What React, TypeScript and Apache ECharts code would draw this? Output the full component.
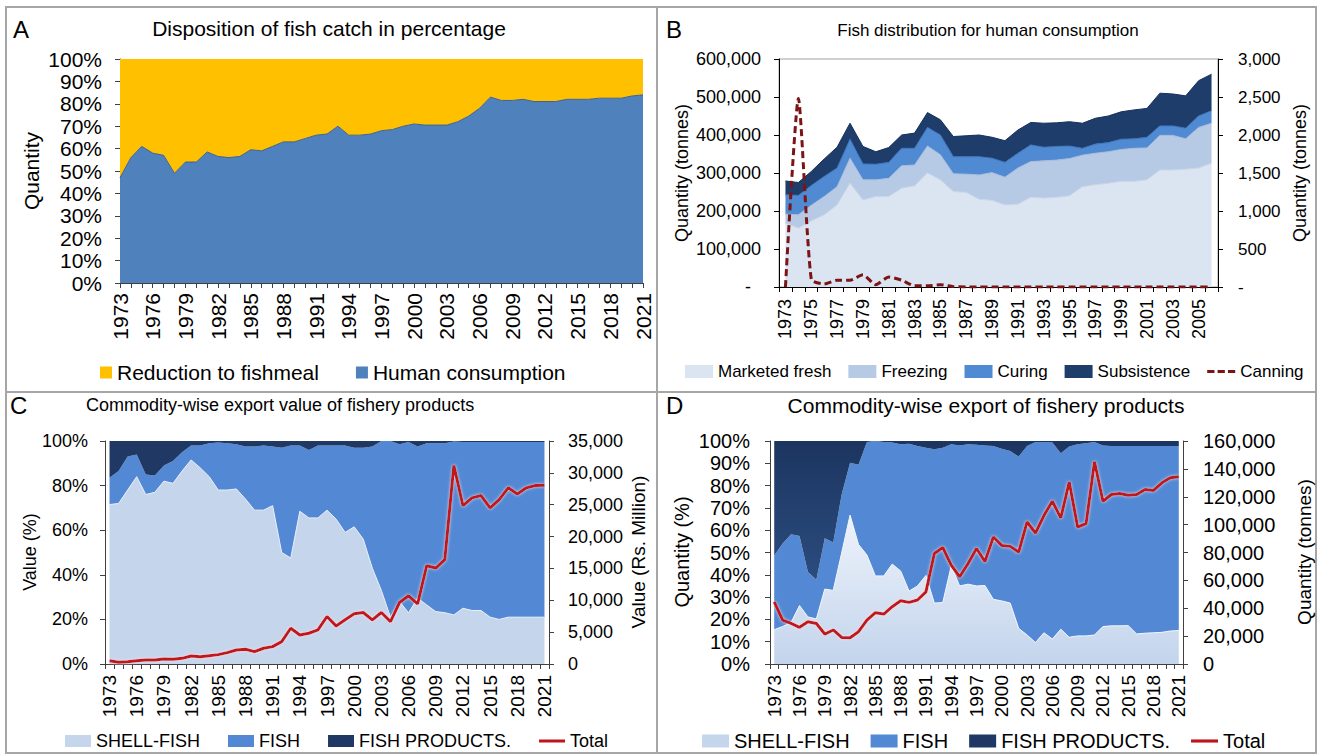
import React, { useEffect, useRef } from 'react';
import * as echarts from 'echarts';

const FONT = '"Liberation Sans", Arial, Helvetica, sans-serif';

// ---------- categories ----------
const YEARS_FULL = Array.from({ length: 49 }, (_, i) => String(1973 + i)); // 1973-2021
const YEARS_B = Array.from({ length: 34 }, (_, i) => String(1973 + i)); // 1973-2006

// ---------- Panel A : disposition of fish catch (%) ----------
const A_HUMAN = [47, 56, 61, 58, 57, 49, 54, 54, 58.5, 56.5, 56, 56.5, 59.5, 59, 61, 63, 63, 64.5, 66, 66.5, 70, 66, 66, 66.5, 68, 68.5, 70, 71, 70.5, 70.5, 70.5, 72, 74.5, 78, 83, 81.5, 81.5, 82, 81, 81, 81, 82, 82, 82, 82.5, 82.5, 82.5, 83.5, 84];
const A_REDUCTION = [53, 44, 39, 42, 43, 51, 46, 46, 41.5, 43.5, 44, 43.5, 40.5, 41, 39, 37, 37, 35.5, 34, 33.5, 30, 34, 34, 33.5, 32, 31.5, 30, 29, 29.5, 29.5, 29.5, 28, 25.5, 22, 17, 18.5, 18.5, 18, 19, 19, 19, 18, 18, 18, 17.5, 17.5, 17.5, 16.5, 16];

// ---------- Panel B : fish distribution for human consumption (tonnes) ----------
const B_FRESH = [168000, 155000, 174000, 190000, 216000, 273000, 229000, 238000, 238000, 260000, 266000, 300000, 282000, 251000, 249000, 231000, 228000, 216000, 218000, 236000, 234000, 236000, 240000, 264000, 269000, 273000, 278000, 278000, 282000, 308000, 308000, 310000, 313000, 326000];
const B_FREEZING = [24000, 35000, 41000, 48000, 48000, 66000, 53000, 44000, 48000, 59000, 55000, 71000, 66000, 47000, 48000, 64000, 73000, 73000, 95000, 94000, 98000, 98000, 98000, 83000, 83000, 83000, 84000, 87000, 84000, 91000, 91000, 80000, 107000, 105000];
const B_CURING = [51000, 51000, 52000, 53000, 49000, 50000, 42000, 41000, 42000, 46000, 44000, 49000, 52000, 45000, 46000, 48000, 38000, 39000, 39000, 44000, 36000, 36000, 33000, 18000, 24000, 24000, 27000, 25000, 28000, 25000, 25000, 28000, 30000, 33000];
const B_SUBSISTENCE = [36000, 34000, 37000, 46000, 55000, 42000, 46000, 33000, 39000, 35000, 40000, 39000, 40000, 53000, 55000, 57000, 55000, 57000, 61000, 59000, 63000, 62000, 64000, 66000, 68000, 70000, 72000, 76000, 76000, 86000, 84000, 85000, 93000, 96000];
const B_CANNING = [0, 2480, 100, 40, 90, 90, 160, 30, 130, 90, 15, 15, 30, 5, 0, 0, 0, 0, 0, 0, 0, 0, 0, 0, 0, 0, 0, 0, 0, 0, 0, 0, 0, 0];

// ---------- Panel C : commodity-wise export value (%), total (Rs. Million) ----------
const C_SHELL = [71.5, 72, 78, 84, 76, 77, 82, 81, 86.5, 91.5, 88, 84, 78, 78, 78.5, 74, 69, 69, 71, 50, 47.5, 68.5, 65.5, 65.5, 69, 65, 59, 61.5, 56, 43, 33, 21, 28, 23, 29.5, 26.5, 23.5, 23, 22, 25, 24, 24, 21, 20, 21, 21, 21, 21, 21];
const C_FISH = [12, 14.5, 15, 10, 9, 7.5, 7, 10, 8.5, 6.5, 10, 15, 21.3, 21, 20, 23.5, 28.5, 29, 26.5, 47, 50.5, 29.5, 30.5, 32.5, 29, 33, 39, 35.5, 41, 54.5, 67, 79, 70.5, 76.5, 68, 72.5, 75.5, 76, 77.8, 74.5, 75.5, 75.5, 78.5, 79.5, 78.5, 78.5, 78.5, 78.5, 78.5];
const C_PRODUCTS = [16.5, 13.5, 7, 6, 15, 15.5, 11, 9, 5, 2, 2, 1, 0.7, 1, 1.5, 2.5, 2.5, 2, 2.5, 3, 2, 2, 4, 2, 2, 2, 2, 3, 3, 2.5, 0, 0, 1.5, 0.5, 2.5, 1, 1, 1, 0.2, 0.5, 0.5, 0.5, 0.5, 0.5, 0.5, 0.5, 0.5, 0.5, 0.5];
const C_TOTAL = [500, 260, 370, 520, 630, 630, 790, 730, 890, 1260, 1150, 1310, 1470, 1780, 2200, 2310, 1940, 2470, 2730, 3520, 5610, 4560, 4830, 5350, 7450, 5980, 6930, 7870, 8080, 6930, 8080, 6660, 9650, 10700, 9440, 15420, 15060, 16370, 31160, 24870, 26070, 26440, 24500, 25810, 27650, 26700, 27650, 28020, 28070];

// ---------- Panel D : commodity-wise export quantity (%), total (tonnes) ----------
const D_SHELL = [15.4, 16.8, 18.6, 26.2, 21.1, 20.2, 33.6, 33, 49.8, 66.8, 53.6, 48.9, 39.5, 39.5, 44.8, 41.7, 32.7, 35, 39.7, 27.3, 27.6, 44, 35, 35.8, 35, 35.2, 29, 28.3, 27.3, 16, 13, 9.6, 14, 11.2, 15.6, 12, 12.6, 12.6, 13, 16.8, 17.1, 17.1, 17.2, 13.5, 13.8, 14, 14.2, 14.8, 15];
const D_FISH = [33.3, 37.2, 39.6, 31.2, 20.1, 17.6, 22.8, 21.5, 26.2, 23.4, 35.7, 50.6, 60.5, 60, 54.5, 56.8, 66.1, 62.8, 57.3, 69, 69.4, 54.5, 63, 62.7, 63.3, 62.8, 68.8, 68.2, 68.2, 77, 84.8, 89.9, 85.5, 88.1, 78.9, 85.5, 85.9, 86.4, 86.5, 81.2, 80.7, 80.7, 80.6, 84.3, 84, 83.8, 83.6, 83, 82.8];
const D_PRODUCTS = [51.3, 46, 41.8, 42.6, 58.8, 62.2, 43.6, 45.5, 24, 9.8, 10.7, 0.5, 0, 0.5, 0.7, 1.5, 1.2, 2.2, 3, 3.7, 3, 1.5, 2, 1.5, 1.7, 2, 2.2, 3.5, 4.5, 7, 2.2, 0.5, 0.5, 0.7, 5.5, 2.5, 1.5, 1, 0.5, 2, 2.2, 2.2, 2.2, 2.2, 2.2, 2.2, 2.2, 2.2, 2.2];
const D_TOTAL = [44650, 31500, 29100, 26300, 30300, 29100, 21500, 24400, 19100, 18900, 23200, 31500, 36800, 35800, 41100, 45400, 44200, 45900, 51800, 79300, 83600, 70900, 62600, 72100, 82900, 73500, 91100, 85100, 84400, 80300, 101900, 94000, 106500, 116800, 104800, 130500, 98300, 100700, 145100, 116800, 121600, 122300, 121100, 121600, 125200, 124500, 130000, 133600, 134300];

// ---------- colours ----------
const COL = {
  human: '#4f81bd',
  reduction: '#ffc000',
  fresh: '#dbe5f2',
  freezing: '#b6cae5',
  curing: '#4f8ad2',
  subsistence: '#1f3d6b',
  canning: '#7b1414',
  shell: '#c5d5ec',
  fish: '#5389d4',
  products: '#1f3864',
  total: '#c0141c',
};

const fmtNum = (v: number) => v.toLocaleString('en-US');
const fmtDash = (v: number) => (v === 0 ? '{d|-}' : fmtNum(v));

function xCat(gridIndex: number, data: string[], gap: boolean, interval: number, fs: number, margin: number, lineColor: string) {
  return {
    type: 'category',
    gridIndex,
    data,
    boundaryGap: gap,
    axisLine: { show: true, onZero: false, lineStyle: { color: lineColor, width: 1 } },
    axisTick: { show: true, interval: 0, length: 5, lineStyle: { color: lineColor } },
    axisLabel: { rotate: 90, interval, fontSize: fs, fontFamily: FONT, color: '#000', margin },
    splitLine: { show: false },
  };
}

function yVal(gridIndex: number, position: 'left' | 'right', max: number, interval: number, fs: number, margin: number, formatter: any, lineColor: string) {
  return {
    type: 'value',
    gridIndex,
    position,
    min: 0,
    max,
    interval,
    axisLine: { show: true, lineStyle: { color: lineColor, width: 1 } },
    axisTick: { show: true, length: 5, lineStyle: { color: lineColor } },
    axisLabel: {
      fontSize: fs,
      fontFamily: FONT,
      color: '#000',
      margin,
      formatter,
      rich: { d: { fontSize: fs, fontFamily: FONT, color: '#000', padding: [0, 10, 0, 0] } },
    },
    splitLine: { show: false },
  };
}

function area(name: string, data: number[], x: number, y: number, stack: string, color: any, edge?: string) {
  return {
    name,
    type: 'line',
    xAxisIndex: x,
    yAxisIndex: y,
    stack,
    data,
    symbol: 'none',
    showSymbol: false,
    color: typeof color === 'string' ? color : undefined,
    itemStyle: { color },
    lineStyle: edge ? { width: 1, color: edge } : { width: 0 },
    areaStyle: { color, opacity: 1 },
    silent: true,
  };
}

function totalLine(name: string, data: number[], x: number, y: number) {
  return {
    name,
    type: 'line',
    xAxisIndex: x,
    yAxisIndex: y,
    data,
    symbol: 'none',
    showSymbol: false,
    color: COL.total,
    silent: true,
    z: 5,
    lineStyle: { color: COL.total, width: 3, shadowColor: 'rgba(255,220,220,0.9)', shadowBlur: 3 },
  };
}

function vText(x: number, y: number, text: string, size: number) {
  return {
    type: 'text',
    x,
    y,
    rotation: Math.PI / 2,
    silent: true,
    style: { text, fontSize: size, fontFamily: FONT, fill: '#000', align: 'center', verticalAlign: 'middle' },
  };
}

function hText(x: number, y: number, text: string, size: number, align: string = 'center') {
  return {
    type: 'text',
    x,
    y,
    silent: true,
    style: { text, fontSize: size, fontFamily: FONT, fill: '#000', align, verticalAlign: 'middle' },
  };
}

const LINE_ICON = 'path://M0,0H26V3H0Z';
const DASH_ICON = 'path://M0,0H7V3H0Z M10,0H17V3H10Z M20,0H27V3H20Z';

function buildOption() {
  const border = '#a6a6a6';
  return {
    animation: false,
    backgroundColor: '#ffffff',
    textStyle: { fontFamily: FONT },
    grid: [
      { left: 120, top: 59, width: 523, height: 224 },
      { left: 779, top: 59, width: 439, height: 228, show: true, borderColor: '#a0a0a0', borderWidth: 1 },
      { left: 105, top: 441, width: 444, height: 223 },
      { left: 770, top: 441, width: 413, height: 223 },
    ],
    xAxis: [
      xCat(0, YEARS_FULL, false, 2, 21, 10, '#404040'),
      xCat(1, YEARS_B, true, 1, 18, 12, '#000000'),
      xCat(2, YEARS_FULL, true, 2, 19, 11, '#404040'),
      xCat(3, YEARS_FULL, true, 2, 19, 11, '#404040'),
    ],
    yAxis: [
      yVal(0, 'left', 100, 10, 21, 18, '{value}%', '#404040'),
      yVal(1, 'left', 600000, 100000, 18, 18, fmtDash, '#000000'),
      yVal(1, 'right', 3000, 500, 17, 20, (v: number) => (v === 0 ? '-' : fmtNum(v)), '#000000'),
      yVal(2, 'left', 100, 20, 18, 17, '{value}%', '#404040'),
      yVal(2, 'right', 35000, 5000, 18, 19, fmtNum, '#404040'),
      yVal(3, 'left', 100, 10, 20, 20, '{value}%', '#404040'),
      yVal(3, 'right', 160000, 20000, 20, 20, fmtNum, '#404040'),
    ],
    legend: [
      {
        left: 100, top: 362, padding: 0, itemWidth: 12, itemHeight: 12, itemGap: 37, selectedMode: false,
        textStyle: { fontSize: 21, fontFamily: FONT, color: '#000' },
        data: [{ name: 'Reduction to fishmeal', icon: 'rect' }, { name: 'Human consumption', icon: 'rect' }],
      },
      {
        left: 685, top: 363, padding: 0, itemWidth: 28, itemHeight: 13, itemGap: 17, selectedMode: false,
        textStyle: { fontSize: 17, fontFamily: FONT, color: '#000' },
        data: [
          { name: 'Marketed fresh', icon: 'rect' },
          { name: 'Freezing', icon: 'rect' },
          { name: 'Curing', icon: 'rect' },
          { name: 'Subsistence', icon: 'rect' },
          { name: 'Canning', icon: DASH_ICON },
        ],
      },
      {
        left: 65, top: 732, padding: 0, itemWidth: 26, itemHeight: 12, itemGap: 28, selectedMode: false,
        textStyle: { fontSize: 18, fontFamily: FONT, color: '#000' },
        data: [
          { name: 'SHELL-FISH', icon: 'rect' },
          { name: 'FISH', icon: 'rect' },
          { name: 'FISH PRODUCTS.', icon: 'rect' },
          { name: 'Total', icon: LINE_ICON },
        ],
      },
      {
        left: 702, top: 731, padding: 0, itemWidth: 27, itemHeight: 13, itemGap: 21, selectedMode: false,
        textStyle: { fontSize: 20, fontFamily: FONT, color: '#000' },
        data: [
          { name: 'SHELL-FISH', icon: 'rect' },
          { name: 'FISH', icon: 'rect' },
          { name: 'FISH PRODUCTS.', icon: 'rect' },
          { name: 'Total', icon: LINE_ICON },
        ],
      },
    ],
    series: [
      // A
      area('Human consumption', A_HUMAN, 0, 0, 'A', COL.human, '#3a6296'),
      area('Reduction to fishmeal', A_REDUCTION, 0, 0, 'A', COL.reduction),
      // B
      area('Marketed fresh', B_FRESH, 1, 1, 'B', COL.fresh, '#c9d6e8'),
      area('Freezing', B_FREEZING, 1, 1, 'B', COL.freezing, '#a7bcd9'),
      area('Curing', B_CURING, 1, 1, 'B', COL.curing, '#3b74b8'),
      area('Subsistence', B_SUBSISTENCE, 1, 1, 'B', COL.subsistence, '#16305a'),
      {
        name: 'Canning', type: 'line', xAxisIndex: 1, yAxisIndex: 2, data: B_CANNING,
        symbol: 'none', showSymbol: false, smooth: 0.2, color: COL.canning, silent: true, z: 5,
        lineStyle: { color: COL.canning, width: 3, type: [7, 4] },
      },
      // C
      area('SHELL-FISH', C_SHELL, 2, 3, 'C', COL.shell, '#e8eef8'),
      area('FISH', C_FISH, 2, 3, 'C', COL.fish),
      area('FISH PRODUCTS.', C_PRODUCTS, 2, 3, 'C', COL.products),
      totalLine('Total', C_TOTAL, 2, 4),
      // D
      area('SHELL-FISH', D_SHELL, 3, 5, 'D', {
        type: 'linear', x: 0, y: 0, x2: 0, y2: 1,
        colorStops: [{ offset: 0, color: '#eef3fb' }, { offset: 1, color: '#c3d4ec' }],
      }, '#f2f6fc'),
      area('FISH', D_FISH, 3, 5, 'D', COL.fish),
      area('FISH PRODUCTS.', D_PRODUCTS, 3, 5, 'D', {
        type: 'linear', x: 0, y: 0, x2: 0, y2: 1,
        colorStops: [{ offset: 0, color: '#1c3560' }, { offset: 1, color: '#2b4c7e' }],
      }),
      totalLine('Total', D_TOTAL, 3, 6),
    ],
    graphic: [
      { type: 'rect', silent: true, shape: { x: 6, y: 7, width: 1310, height: 746 }, style: { fill: 'none', stroke: border, lineWidth: 2 } },
      { type: 'line', silent: true, shape: { x1: 657, y1: 7, x2: 657, y2: 753 }, style: { stroke: border, lineWidth: 2 } },
      { type: 'line', silent: true, shape: { x1: 6, y1: 392, x2: 1316, y2: 392 }, style: { stroke: border, lineWidth: 2 } },
      // panel letters
      hText(13, 29, 'A', 24, 'left'),
      hText(666, 29, 'B', 24, 'left'),
      hText(10, 405, 'C', 24, 'left'),
      hText(666, 405, 'D', 24, 'left'),
      // titles
      hText(329, 28, 'Disposition of fish catch in percentage', 21),
      hText(988, 30, 'Fish distribution for human consumption', 17),
      hText(86, 405, 'Commodity-wise export value of fishery products', 18, 'left'),
      hText(986, 405, 'Commodity-wise export of fishery products', 21),
      // axis names
      vText(31, 171, 'Quantity', 21),
      vText(682, 173, 'Quantity (tonnes)', 18),
      vText(1300, 173, 'Quantity (tonnes)', 18),
      vText(30, 552, 'Value (%)', 18),
      vText(638, 552, 'Value (Rs. Million)', 19),
      vText(682, 552, 'Quantity (%)', 20),
      vText(1304, 552, 'Quantity (tonnes)', 19),
    ],
  };
}

export default function App() {
  const ref = useRef<HTMLDivElement>(null);
  useEffect(() => {
    document.body.style.margin = '0';
    if (!ref.current) return;
    const chart = echarts.init(ref.current, null, { renderer: 'svg' });
    chart.setOption(buildOption() as any);
    return () => chart.dispose();
  }, []);
  return <div ref={ref} style={{ width: 1322, height: 756 }} />;
}
